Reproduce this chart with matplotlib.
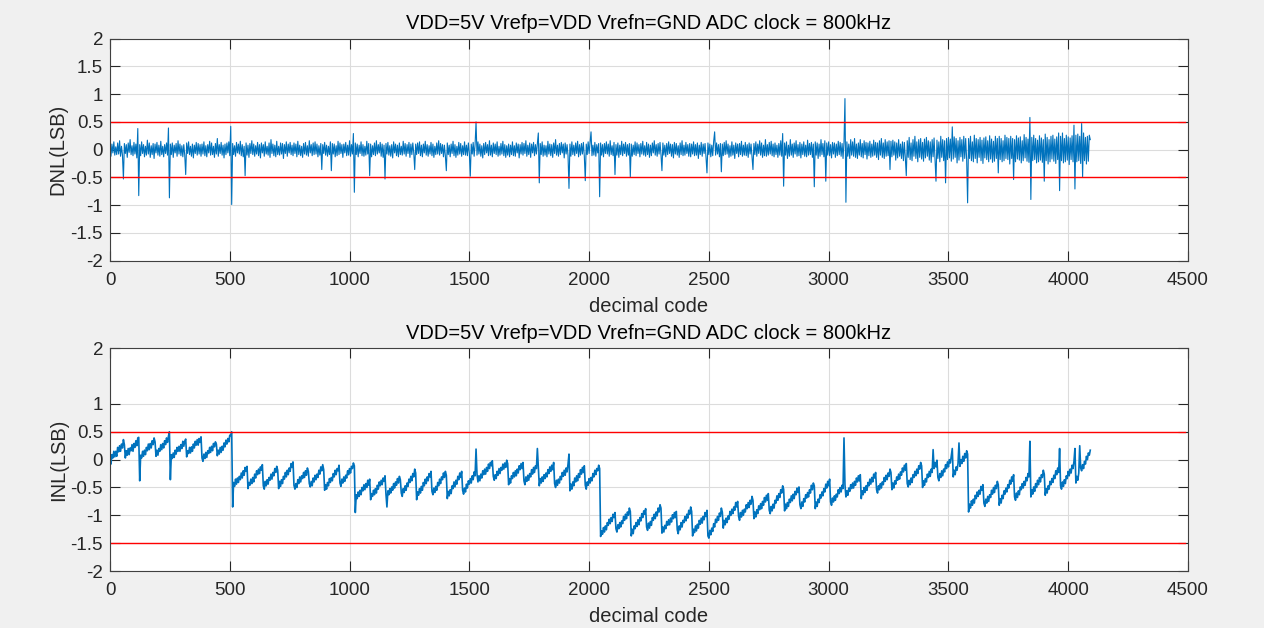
import numpy as np
import matplotlib
matplotlib.use("Agg")
import matplotlib.pyplot as plt

plt.rcParams['font.family'] = ['Liberation Sans', 'DejaVu Sans']
plt.rcParams['axes.unicode_minus'] = False

title_text = "VDD=5V Vrefp=VDD Vrefn=GND ADC clock = 800kHz"
xlabel_text = "decimal code"
dnl_ylabel = "DNL(LSB)"
inl_ylabel = "INL(LSB)"

code_step = 4  # one stored sample every 4 codes
value_unit = 0.01  # values below are in hundredths of an LSB

dnl_centi = [
    8,-12,10,-6,14,-10,5,-9,12,-8,16,-12,6,-10,-53,11,-7,9,-14,12,-5,18,-9,7,-11,13,-8,10,-15,38,-83,9,
    -11,14,-7,9,-13,6,-10,17,-8,12,-14,7,-9,11,-16,10,-6,13,-10,8,-12,15,-9,6,-13,9,-7,12,-10,39,-87,10,
    -9,12,-14,8,-6,11,-12,16,-8,10,-11,7,-13,9,-10,-45,12,-7,14,-9,6,-12,10,-15,8,-7,13,-10,11,-8,9,-12,
    10,-8,14,-11,7,-13,9,-6,15,-10,12,-9,6,-14,11,-8,20,-12,9,-7,13,-10,8,-15,10,-9,12,-6,14,-11,42,-99,
    11,-9,7,-12,13,-6,10,-8,15,-11,9,-13,6,-47,12,-10,8,-14,11,-7,16,-9,10,-12,7,-8,13,-11,9,-15,12,-6,
    9,-12,14,-8,6,-10,12,-14,18,-7,10,-11,8,-13,15,-9,6,-10,12,-8,11,-16,9,-7,14,-12,10,-6,13,-9,8,-11,
    12,-7,10,-13,15,-9,8,-11,6,-14,11,-8,13,-10,7,-12,16,-6,9,-11,12,-9,14,-8,10,-13,7,-10,11,-36,9,-7,
    13,-10,8,-12,6,-9,14,-38,11,-8,10,-13,7,-11,15,-9,12,-7,9,-14,10,-6,13,-11,8,-10,16,-12,9,-8,29,-77,
    12,-9,10,-13,8,-7,14,-11,9,-12,6,-10,15,-8,11,-47,10,-13,7,-9,12,-11,16,-8,9,-6,13,-12,10,-14,8,-53,
    11,-8,13,-10,7,-12,9,-15,14,-6,10,-11,8,-13,12,-9,6,-10,15,-8,11,-12,9,-7,13,-14,10,-9,12,-6,-36,10,
    -9,12,-7,14,-11,8,-13,10,-6,15,-10,9,-12,7,-8,13,-11,10,-14,6,-9,12,-8,16,-10,11,-7,9,-13,8,-12,-38,
    12,-9,8,-13,10,-7,15,-11,9,-14,6,-10,13,-8,11,-12,7,-9,14,-10,8,-11,12,-6,-48,10,-8,13,-12,9,50,-10,
    14,-8,10,-12,7,-15,11,-9,13,-6,9,-11,16,-10,8,-13,12,-7,10,-9,14,-12,6,-10,11,-8,15,-11,9,-14,7,-10,
    10,-13,8,-9,14,-11,7,-12,12,-6,10,-15,9,-8,13,-10,11,-7,16,-12,8,-9,12,-14,10,-6,13,-11,9,-8,12,30,
    -60,11,-9,14,-12,8,-10,7,-13,15,-8,10,-11,9,-14,12,-7,18,-10,8,-12,11,-9,13,-6,10,-15,12,-8,9,-11,-70,
    10,-12,14,-9,8,-11,12,-7,15,-13,9,-10,11,-8,13,-12,-56,10,-9,14,-7,12,32,-11,8,-10,13,-12,9,-6,11,-85,
    12,-10,9,-13,11,-7,14,-8,10,-12,16,-9,7,-11,13,-45,9,-10,12,-14,8,-9,15,-11,10,-7,13,-12,9,-10,11,-49,
    10,-12,8,-9,14,-11,12,-7,9,-13,11,-8,15,-10,7,-12,13,-9,10,-14,8,-11,12,-6,16,-10,9,-12,11,-8,13,-9,
    -38,12,-10,8,-13,11,-9,14,-7,10,-12,9,-15,13,-8,11,-10,7,-14,12,-9,16,-11,8,-10,13,-7,9,-12,11,-13,10,
    -8,14,-11,9,-10,12,-16,8,-9,13,-12,10,-7,11,-14,-42,12,-9,10,-13,8,-11,15,32,-10,12,-8,9,-13,11,-40,10,
    -11,13,-9,16,-8,10,-14,7,-12,14,-10,8,-16,12,-7,10,-13,11,-9,15,-12,8,-10,13,-11,9,-14,12,-8,10,-12,-36,
    11,-9,14,-12,10,-7,16,-10,12,-14,8,-11,18,-12,9,-10,13,-8,15,-11,10,-13,12,-9,8,-14,11,-10,16,-12,29,-66,
    12,-10,14,-16,8,-12,18,-10,10,-14,12,-8,16,-12,9,-11,13,-15,10,-9,14,-12,8,-13,17,-10,11,-9,13,-14,10,-67,
    14,-10,12,-16,10,-12,18,-9,11,-13,16,-57,12,-10,14,-11,9,-15,13,-8,12,-14,10,-11,15,-9,13,-12,11,-16,14,92,
    -95,14,-12,10,-16,18,-10,14,-12,20,-14,10,-16,12,-10,18,-13,11,-15,16,-9,13,-17,12,-11,15,-14,10,-12,17,-10,13,
    -14,12,-18,16,-10,20,-14,12,-16,18,-12,14,-11,16,-36,15,-13,17,-10,14,-19,12,-15,18,-12,10,-16,14,-20,13,-15,-47,
    16,-14,22,-18,12,-20,18,-12,24,-16,14,-22,18,-14,20,-17,13,-21,19,-15,22,-12,16,-19,14,-23,18,-13,21,-16,-57,17,
    -16,14,-22,24,-14,18,-20,16,-60,20,-18,22,-15,19,-21,41,-17,23,-14,20,-24,16,-19,22,-13,18,-21,24,-16,20,-18,-96,
    20,-16,24,-20,14,-22,26,-16,20,-24,18,-14,22,-20,17,-25,21,-15,23,-18,16,-22,25,-17,19,-23,15,-21,24,-16,20,-42,
    24,-18,20,-22,16,-20,26,-16,22,-18,20,-26,24,-16,20,-54,18,-22,25,-17,21,-19,23,-24,16,-20,27,-15,22,-21,19,-23,
    58,-90,22,-20,26,-18,20,-24,17,-22,25,-19,21,-23,18,-57,28,-20,22,-26,18,-22,24,-17,26,-21,19,-25,23,-18,30,-74,
    24,-20,30,-24,20,-22,26,-19,23,-27,21,-18,25,-22,44,-71,26,-22,28,-20,24,-25,47,-49,30,-20,22,-26,24,-21,26,18,
]

inl_centi = [
    2,-8,9,3,15,5,15,6,22,14,25,15,28,21,36,27,
    3,16,8,20,9,21,16,27,15,29,22,34,25,39,40,-38,
    8,3,15,6,17,9,22,16,28,18,29,21,34,27,39,32,
    6,17,8,20,15,27,18,29,21,34,27,39,31,42,50,-36,
    9,2,12,4,17,10,22,15,24,15,27,20,33,24,33,37,
    5,16,11,22,12,23,15,28,21,33,26,36,26,38,31,41,
    3,-3,10,2,13,4,16,11,22,13,24,16,29,23,32,28,
    7,17,10,22,13,24,17,30,23,35,28,38,32,44,43,50,
    -85,-41,-48,-35,-44,-33,-41,-30,-36,-24,-33,-20,-28,-14,-21,-12,
    -52,-41,-46,-35,-43,-32,-40,-26,-33,-20,-27,-17,-25,-13,-19,-9,
    -47,-53,-39,-47,-36,-44,-32,-37,-26,-35,-23,-29,-16,-23,-12,-19,
    -52,-39,-48,-36,-43,-30,-35,-23,-31,-19,-27,-15,-21,-7,-14,-4,
    -46,-53,-43,-50,-36,-43,-31,-40,-29,-34,-23,-32,-20,-28,-15,-21,
    -43,-49,-39,-47,-33,-40,-28,-36,-26,-32,-19,-26,-13,-20,-9,-18,
    -55,-45,-53,-41,-47,-34,-41,-32,-38,-25,-31,-19,-27,-16,-20,-10,
    -42,-48,-35,-42,-31,-39,-28,-33,-20,-27,-16,-24,-12,-16,-6,-11,
    -95,-63,-70,-58,-66,-55,-63,-50,-56,-45,-54,-43,-50,-37,-46,-35,
    -72,-61,-66,-55,-63,-52,-60,-46,-53,-40,-47,-37,-45,-33,-39,-29,
    -62,-85,-56,-63,-52,-60,-49,-55,-43,-51,-40,-46,-34,-42,-30,-36,
    -60,-66,-52,-59,-47,-55,-42,-48,-35,-41,-30,-38,-25,-31,-17,-24,
    -72,-58,-64,-52,-60,-48,-55,-41,-47,-35,-43,-31,-38,-25,-31,-21,
    -57,-63,-51,-59,-48,-55,-41,-47,-35,-43,-31,-36,-24,-32,-21,-28,
    -70,-57,-65,-54,-61,-47,-52,-40,-49,-37,-44,-30,-36,-24,-32,-21,
    -55,-62,-51,-58,-44,-51,-38,-44,-34,-42,-29,-36,-22,-29,19,-26,
    -40,-29,-38,-26,-33,-20,-27,-17,-26,-14,-21,-8,-16,-5,-11,-2,
    -30,-37,-27,-34,-21,-28,-16,-25,-14,-19,-8,-17,-6,-14,-1,-7,
    -45,-34,-42,-29,-34,-23,-31,-20,-29,-17,-24,-11,-18,-7,-16,-5,
    -38,-45,-31,-39,-28,-37,-25,-31,-18,-26,-14,-23,-11,-16,20,-12,
    -47,-34,-42,-31,-39,-27,-34,-24,-31,-18,-25,-13,-21,-10,-18,-5,
    -43,-50,-37,-46,-35,-42,-30,-36,-23,-30,-19,-28,-15,-22,-8,10,
    -56,-44,-53,-40,-47,-33,-40,-29,-38,-25,-32,-18,-26,-14,-23,-11,
    -46,-53,-40,-46,-34,-42,-32,-38,-25,-31,-19,-27,-16,-20,-10,-16,
    -138,-128,-134,-122,-130,-119,-126,-113,-118,-107,-115,-104,-111,-98,-104,-95,
    -124,-130,-117,-124,-113,-121,-110,-115,-102,-109,-98,-106,-94,-100,-87,-93,
    -137,-125,-133,-119,-124,-113,-120,-108,-117,-104,-110,-97,-104,-92,-98,-88,
    -121,-127,-114,-123,-111,-118,-104,-109,-98,-106,-94,-101,-87,-94,-81,-87,
    -132,-121,-130,-118,-124,-111,-118,-108,-117,-105,-112,-99,-106,-95,-104,-93,
    -126,-133,-119,-126,-113,-121,-109,-113,-102,-110,-98,-105,-91,-98,-85,-93,
    -137,-125,-131,-119,-128,-116,-123,-109,-116,-105,-114,-102,-108,-95,-102,-91,
    -137,-141,-127,-135,-123,-129,-115,-121,-107,-113,-102,-109,-96,-102,-87,-94,
    -123,-109,-117,-105,-113,-101,-107,-93,-100,-89,-97,-85,-91,-77,-85,-75,
    -102,-109,-95,-103,-91,-100,-89,-94,-81,-88,-77,-86,-73,-80,-66,-73,
    -106,-94,-103,-90,-97,-83,-90,-79,-88,-75,-82,-68,-76,-64,-73,-61,
    -91,-97,-84,-92,-80,-87,-73,-78,-65,-73,-61,-68,-54,-60,-47,-53,
    -92,-80,-88,-77,-84,-71,-77,-65,-74,-62,-70,-57,-63,-51,-59,-49,
    -81,-88,-76,-84,-70,-76,-63,-69,-59,-67,-54,-60,-46,-54,-42,-47,
    -88,-76,-84,-71,-77,-63,-69,-58,-65,-52,-58,-44,-51,-39,-47,-35,
    -76,-82,-69,-76,-65,-73,-62,-67,-54,-61,-50,-58,-46,-52,39,-45,
    -67,-56,-64,-51,-57,-45,-52,-42,-51,-39,-46,-33,-40,-29,-38,-27,
    -70,-56,-63,-50,-59,-47,-55,-41,-47,-35,-44,-32,-40,-26,-33,-23,
    -54,-60,-47,-54,-43,-51,-40,-45,-32,-39,-28,-36,-24,-30,-17,-23,
    -54,-42,-51,-38,-44,-31,-37,-26,-35,-22,-28,-15,-22,-10,-19,-7,
    -43,-49,-37,-45,-33,-41,-27,-32,-21,-29,-17,-25,-11,-17,-5,-11,
    -50,-38,-46,-34,-40,-26,-32,-21,-30,-17,-23,18,-16,-5,-13,-1,
    -32,-38,-25,-32,-20,-29,-17,-22,-9,-16,-4,-13,0,-6,7,20,
    -31,-19,-27,-13,-19,-7,30,-12,0,-7,6,-3,11,3,16,10,
    -94,-80,-87,-74,-82,-71,-78,-64,-70,-58,-66,-55,-62,-48,-55,-45,
    -78,-84,-71,-78,-66,-75,-63,-68,-55,-62,-50,-59,-46,-52,-39,-45,
    -82,-70,-78,-64,-70,-56,-62,-51,-58,-45,-51,-37,-44,-31,-39,-27,
    -67,-73,-60,-68,-56,-63,-49,-54,-43,-51,-39,-46,-32,-38,-25,-31,
    33,-67,-54,-62,-49,-57,-43,-50,-37,-45,-32,-40,-27,-32,-19,-26,
    -64,-52,-60,-47,-53,-39,-45,-34,-41,-28,-34,-20,-27,-15,-23,20,
    -47,-53,-40,-48,-36,-43,-29,-34,-21,-29,-17,-24,-10,-16,-3,20,
    -42,-30,-37,-24,25,-15,-20,-9,-16,-3,-8,6,0,12,8,17,
]

dnl_limits = [0.5, -0.5]
inl_limits = [0.5, -1.5]

x_ticks = [0, 500, 1000, 1500, 2000, 2500, 3000, 3500, 4000, 4500]
dnl_yticks = [-2, -1.5, -1, -0.5, 0, 0.5, 1, 1.5, 2]
inl_yticks = [-2, -1.5, -1, -0.5, 0, 0.5, 1, 2]

line_color = '#0072BD'
limit_color = '#FF0000'
text_color = '#262626'

dnl = np.array(dnl_centi) * value_unit
inl = np.array(inl_centi) * value_unit
codes_dnl = np.arange(len(dnl)) * code_step
codes_inl = np.arange(len(inl)) * code_step

W, H = 1264, 628
fig = plt.figure(figsize=(W / 100, H / 100), dpi=100, facecolor='#f0f0f0')

def px_axes(left, top, right, bottom):
    return fig.add_axes([left / W, 1 - bottom / H, (right - left) / W, (bottom - top) / H])

ax1 = px_axes(110, 38.7, 1188, 260.5)
ax2 = px_axes(110, 348.3, 1188, 571)

def style(ax, yticks, ylabel):
    ax.set_xlim(0, 4500)
    ax.set_ylim(-2, 2)
    ax.set_xticks(x_ticks)
    ax.set_yticks(yticks)
    ax.set_xticklabels([f"{t:g}" for t in x_ticks])
    ax.set_yticklabels([f"{t:g}" for t in yticks])
    ax.grid(True, color='#dcdcdc', linewidth=0.8)
    ax.set_axisbelow(True)
    ax.tick_params(direction='in', length=7, width=0.8, top=True, right=True,
                   labelsize=13.5, colors=text_color)
    ax.tick_params(axis='x', pad=8)
    ax.tick_params(axis='y', pad=5)
    for s in ax.spines.values():
        s.set_color('#404040')
        s.set_linewidth(0.8)
    ax.set_xlabel(xlabel_text, fontsize=14.5, color=text_color, labelpad=6)
    ax.set_ylabel(ylabel, fontsize=14.5, color=text_color, labelpad=2)
    ax.set_title(title_text, fontsize=14.5, color='#000000', pad=7)

style(ax1, dnl_yticks, dnl_ylabel)
style(ax2, inl_yticks, inl_ylabel)

ax1.plot(codes_dnl, dnl, color=line_color, linewidth=0.8)
ax2.plot(codes_inl, inl, color=line_color, linewidth=1.2)

for v in dnl_limits:
    ax1.axhline(v, xmin=0, xmax=0.997, color=limit_color, linewidth=1.0)
for v in inl_limits:
    ax2.axhline(v, xmin=0, xmax=0.997, color=limit_color, linewidth=1.0)

fig.savefig('out.png', dpi=100, facecolor=fig.get_facecolor())
